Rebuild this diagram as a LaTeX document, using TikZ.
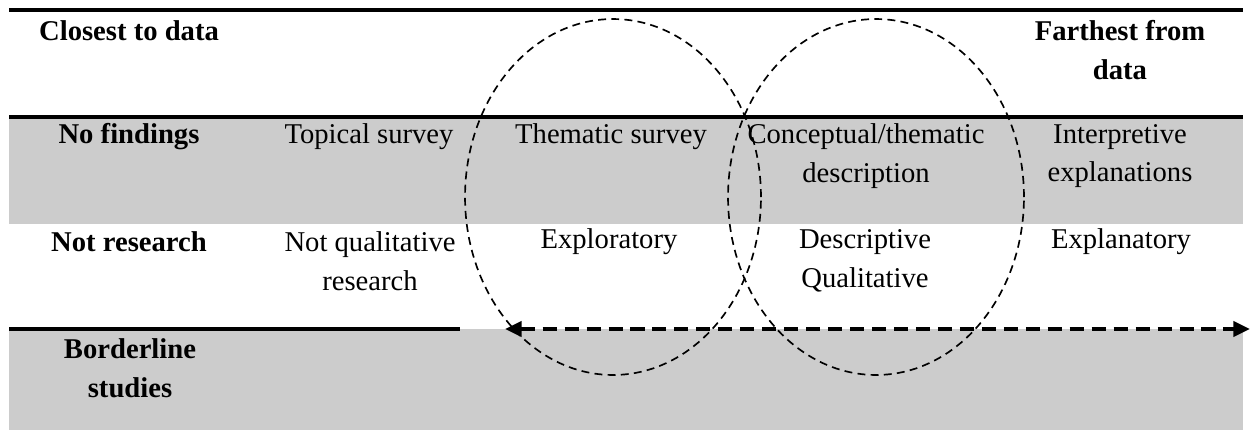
\documentclass[tikz,border=0pt]{standalone}
\usepackage{fontspec}
\setmainfont{Liberation Serif}
\usepackage{xcolor}
\usetikzlibrary{positioning, shapes.geometric, arrows.meta}
\definecolor{bandgray}{RGB}{204,204,204}
\tikzset{
  band/.style={fill=bandgray, draw=none},
  rule/.style={line width=1.9pt},
  rowhead/.style={
    inner sep=0pt, align=center,
    font=\fontsize{16.3}{22}\selectfont\bfseries
  },
  cell/.style={
    inner sep=0pt, align=center,
    font=\fontsize{16.3}{22}\selectfont
  },
  zone/.style={
    ellipse, draw=black, line width=0.95pt,
    dash pattern=on 4.5pt off 3pt,
    minimum width=5.92cm, minimum height=7.12cm
  },
  scalearrow/.style={
    {Triangle[length=9.5pt,width=8.5pt]}-{Triangle[length=9.5pt,width=8.5pt]},
    line width=2.4pt, dash pattern=on 8pt off 4.5pt
  }
}

\begin{document}
\begin{tikzpicture}[x=0.02cm, y=-0.02cm]
\useasboundingbox (0,0) rectangle (1251,430);

%% ── Grey bands ───────────────────────────────────────────────
\fill[band] (9,117) rectangle (1243,224);
\fill[band] (9,329) rectangle (1243,430);

%% ── Rules ────────────────────────────────────────────────────
\draw[rule] (9,10) -- (1243,10);
\draw[rule] (9,117) -- (1243,117);
\draw[rule] (9,329) -- (460,329);

%% ── Header row ───────────────────────────────────────────────
\node[rowhead] (closest) at (129,31) {Closest to data};
\node[rowhead] (farthest) at (1120,50) {Farthest from\\data};

%% ── Findings row ─────────────────────────────────────────────
\node[rowhead] (nofind) at (129,137) {No findings};
\node[cell] (topical) at (369,137) {Topical survey};
\node[cell] (thematic) at (611,137) {Thematic survey};
\node[cell] (concept) at (866,156) {Conceptual/thematic\\description};
\node[cell] (interp) at (1120,156) {Interpretive\\explanations};

%% ── Research row ─────────────────────────────────────────────
\node[rowhead] (notres) at (129,242) {Not research};
\node[cell] (notqual) at (370,261) {Not qualitative\\research};
\node[cell] (explor) at (609,242) {Exploratory};
\node[cell] (descq) at (865,261) {Descriptive\\Qualitative};
\node[cell] (explan) at (1121,242) {Explanatory};

%% ── Borderline row ───────────────────────────────────────────
\node[rowhead] (border) at (130,368) {Borderline\\studies};

%% ── Overlapping zones ────────────────────────────────────────
\node[zone] (zoneA) at (613,197) {};
\node[zone] (zoneB) at (876,197) {};

%% ── Scale arrow ──────────────────────────────────────────────
\coordinate (scaleL) at (505,329);
\coordinate (scaleR) at (1250,329);
\draw[scalearrow] (scaleL) -- (scaleR);

\end{tikzpicture}
\end{document}
